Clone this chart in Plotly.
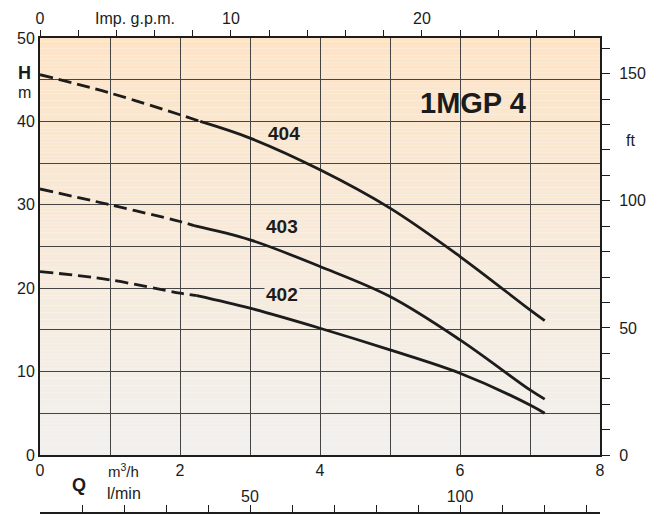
import plotly.graph_objects as go

# unit conversions for the secondary axes
M3H_TO_GPM = 1000 / 60 / 4.54609
M3H_TO_LMIN = 1000 / 60
M_TO_FT = 1 / 0.3048

# axis extents / tick labels
q_max = 8
h_max = 50
q_ticks = list(range(0, 9))
q_ticktext = ["0", "", "2", "", "4", "", "6", "", "8"]
h_ticks = list(range(0, 51, 5))
h_ticktext = [str(v) if v % 10 == 0 else "" for v in h_ticks]
gpm_ticks = list(range(0, 29, 2))
gpm_ticktext = [str(v) if v % 10 == 0 else "" for v in gpm_ticks]
lmin_ticks = list(range(0, 131, 10))
lmin_ticktext = [str(v) if v % 50 == 0 else "" for v in lmin_ticks]
ft_ticks = list(range(0, 161, 10))
ft_ticktext = [str(v) if v % 50 == 0 else "" for v in ft_ticks]

# pump curves (Q m3/h, H m)
q_404_dash = [0, 1, 2, 2.29]
h_404_dash = [45.6, 43.4, 40.8, 40.0]
q_404 = [2.29, 3, 4, 5, 6, 7, 7.21]
h_404 = [40.0, 38.0, 34.2, 29.6, 23.8, 17.4, 16.1]

q_403_dash = [0, 1, 2, 2.2]
h_403_dash = [31.9, 30.0, 28.0, 27.5]
q_403 = [2.2, 3, 4, 5, 6, 7, 7.21]
h_403 = [27.5, 25.8, 22.6, 19.0, 13.8, 7.8, 6.7]

q_402_dash = [0, 1, 2, 2.24]
h_402_dash = [22.0, 21.0, 19.4, 19.1]
q_402 = [2.24, 3, 4, 5, 6, 7, 7.21]
h_402 = [19.1, 17.6, 15.2, 12.6, 9.8, 6.0, 5.0]

curve_labels = ["404", "403", "402"]
label_q = [3.49, 3.46, 3.46]
label_h = [38.5, 27.4, 19.3]

FONT = "Liberation Sans, Arial, sans-serif"
INK = "#1c1c1c"
TOP_C = (253, 228, 199)
BOT_C = (241, 240, 238)


def grad(t):
    c = [round(BOT_C[i] + (TOP_C[i] - BOT_C[i]) * t) for i in range(3)]
    return "rgb(%d,%d,%d)" % tuple(c)


fig = go.Figure()

series = [
    (q_404_dash, h_404_dash, q_404, h_404),
    (q_403_dash, h_403_dash, q_403, h_403),
    (q_402_dash, h_402_dash, q_402, h_402),
]
for qd, hd, qs, hs in series:
    fig.add_trace(go.Scatter(x=qd, y=hd, mode="lines", line=dict(color=INK, width=2.8, dash="13px,6px", shape="spline"),
                             showlegend=False, hoverinfo="skip"))
    fig.add_trace(go.Scatter(x=qs, y=hs, mode="lines", line=dict(color=INK, width=2.8, shape="spline"),
                             showlegend=False, hoverinfo="skip"))

# invisible copies of the 404 curve in the secondary units, so the secondary axes are drawn
ghost = dict(mode="lines", line=dict(width=0), opacity=0, showlegend=False, hoverinfo="skip")
fig.add_trace(go.Scatter(x=[q * M3H_TO_GPM for q in q_404], y=h_404, xaxis="x2", yaxis="y", **ghost))
fig.add_trace(go.Scatter(x=[q * M3H_TO_LMIN for q in q_404], y=h_404, xaxis="x3", yaxis="y", **ghost))
fig.add_trace(go.Scatter(x=q_404, y=[h * M_TO_FT for h in h_404], xaxis="x", yaxis="y2", **ghost))

# background gradient bands
N = 120
shapes = []
for i in range(N):
    shapes.append(dict(type="rect", xref="x domain", yref="y domain", x0=0, x1=1,
                       y0=i / N, y1=(i + 1) / N, fillcolor=grad((i + 0.5) / N),
                       line=dict(width=0), layer="below"))

# page body adds an 8px offset; work in reference-image pixel coordinates
OFF = 8
W, H = 660 - OFF, 516 - OFF
PLOT_L, PLOT_R, PLOT_T, PLOT_B = 40, 600, 38, 513   # reference px (plot area incl. l/min axis)
ML = PLOT_L - OFF
MT = PLOT_T - OFF
MR = 660 - PLOT_R
MB = 516 - PLOT_B
PW = PLOT_R - PLOT_L
PH = PLOT_B - PLOT_T


def px(x):
    return (x - PLOT_L) / PW


def py(y):
    return (PLOT_B - y) / PH


ydom0 = (PLOT_B - 455) / PH

annotations = [
    dict(text="<b>H</b>", x=px(24), y=py(73), font=dict(size=18)),
    dict(text="m", x=px(24), y=py(92), font=dict(size=16)),
    dict(text="ft", x=px(630), y=py(140), font=dict(size=16)),
    dict(text="Imp. g.p.m.", x=px(135), y=py(19), font=dict(size=16)),
    dict(text="m<sup>3</sup>/h", x=px(123), y=py(470), font=dict(size=15)),
    dict(text="<b>Q</b>", x=px(79), y=py(485), font=dict(size=18)),
    dict(text="l/min", x=px(124), y=py(493), font=dict(size=16)),
]
for a in annotations:
    a.update(xref="paper", yref="paper", showarrow=False, xanchor="center", yanchor="middle")
    a["font"].update(family=FONT, color=INK)

annotations.append(dict(text="<b>1MGP 4</b>", x=6.19, y=42.2, xref="x", yref="y", showarrow=False,
                        font=dict(family=FONT, size=29, color=INK)))
for lab, lq, lh in zip(curve_labels, label_q, label_h):
    ann = dict(text="<b>%s</b>" % lab, x=lq, y=lh, xref="x", yref="y", showarrow=False,
               font=dict(family=FONT, size=19, color=INK), borderpad=1)
    if lab == "402":
        ann["bgcolor"] = grad(lh / h_max)
    annotations.append(ann)

axis_common = dict(showline=True, linecolor=INK, linewidth=2, zeroline=False, automargin=False,
                   tickfont=dict(family=FONT, size=16, color=INK), tickcolor=INK)

fig.update_layout(
    width=W, height=H,
    margin=dict(l=ML, r=MR, t=MT, b=MB),
    paper_bgcolor="white",
    plot_bgcolor="rgba(0,0,0,0)",
    showlegend=False,
    shapes=shapes,
    annotations=annotations,
    xaxis=dict(range=[0, q_max], tickvals=q_ticks, ticktext=q_ticktext, ticks="", anchor="y",
               showgrid=True, gridcolor="#444444", gridwidth=1, **axis_common),
    xaxis2=dict(range=[0, q_max * M3H_TO_GPM], tickvals=gpm_ticks, ticktext=gpm_ticktext, overlaying="x",
                side="top", anchor="y", ticks="outside", ticklen=6, tickwidth=1, showgrid=False, **axis_common),
    xaxis3=dict(range=[0, q_max * M3H_TO_LMIN], tickvals=lmin_ticks, ticktext=lmin_ticktext, overlaying="x",
                side="bottom", anchor="free", position=0, ticks="inside", ticklen=7, tickwidth=1,
                ticklabelposition="inside", showgrid=False, **axis_common),
    yaxis=dict(range=[0, h_max], domain=[ydom0, 1], tickvals=h_ticks, ticktext=h_ticktext, ticks="",
               showgrid=True, gridcolor="#444444", gridwidth=1, anchor="x", **axis_common),
    yaxis2=dict(range=[0, h_max * M_TO_FT], tickvals=ft_ticks, ticktext=ft_ticktext, overlaying="y",
                side="right", anchor="x", ticks="outside", ticklen=8, tickwidth=1, showgrid=False,
                ticklabelstandoff=6, **axis_common),
)

fig.write_html("out.html")
